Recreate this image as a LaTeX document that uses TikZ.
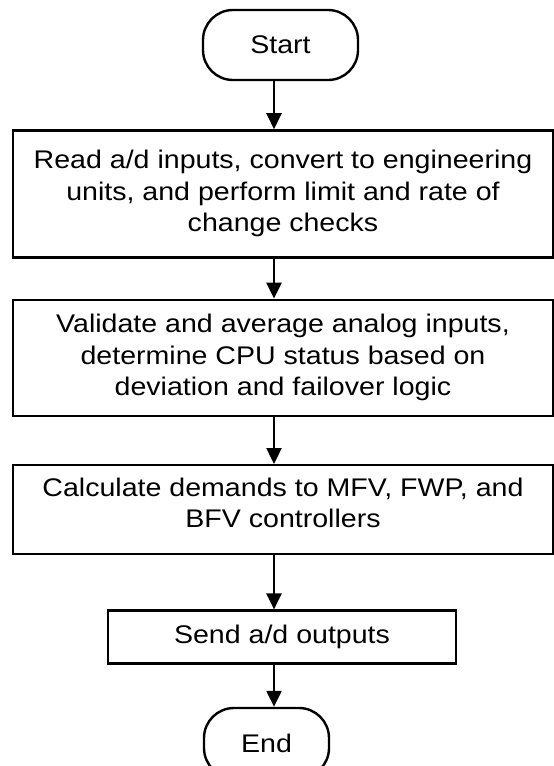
\documentclass[tikz,border=0pt]{standalone}
\usepackage{fontspec}
\setmainfont[FakeStretch=1.12]{Liberation Sans}
\usetikzlibrary{positioning,arrows.meta}

\begin{document}
\begin{tikzpicture}[x=1pt, y=1pt,
    every node/.style={font=\fontsize{25.5}{31.5}\selectfont},
    term/.style={draw, line width=2.4pt, rounded corners=30pt,
      minimum width=#1, minimum height=70pt, inner sep=0pt},
    proc/.style={draw, line width=2.4pt, minimum width=#1,
      inner sep=0pt, align=center},
    flow/.style={-{Triangle[width=15pt,length=16pt]}, line width=2.4pt}]
    \useasboundingbox (0,0) rectangle (554,-766);
    \node[term=155pt] (start) at (280.5,-45) {Start};
    \node[proc=540pt, minimum height=127pt, below=48pt of start, xshift=2.5pt] (read)
      {Read a/d inputs, convert to engineering\\units, and perform limit and rate of\\change checks};
    \node[proc=540pt, minimum height=116pt, below=40pt of read] (valid)
      {Validate and average analog inputs,\\determine CPU status based on\\deviation and failover logic};
    % text sits a bit high in this box
    \node[proc=540pt, minimum height=89pt, below=47pt of valid,
      label={[align=center, yshift=7pt]center:{Calculate demands to MFV, FWP, and\\BFV controllers}}] (calc) {};
    \node[proc=348pt, minimum height=53pt, below=54pt of calc, xshift=-1pt] (send)
      {Send a/d outputs};
    \node[term=125pt, below=42pt of send, xshift=-15.5pt] (end) {End};
    % arrows run a little left of the box centres
    \coordinate (axis) at (274,0);
    \draw[flow] (start.south -| axis) -- (read.north -| axis);
    \draw[flow] (read.south -| axis) -- (valid.north -| axis);
    \draw[flow] (valid.south -| axis) -- (calc.north -| axis);
    \draw[flow] (calc.south -| axis) -- (send.north -| axis);
    \draw[flow] (send.south -| axis) -- (end.north -| axis);
\end{tikzpicture}
\end{document}
